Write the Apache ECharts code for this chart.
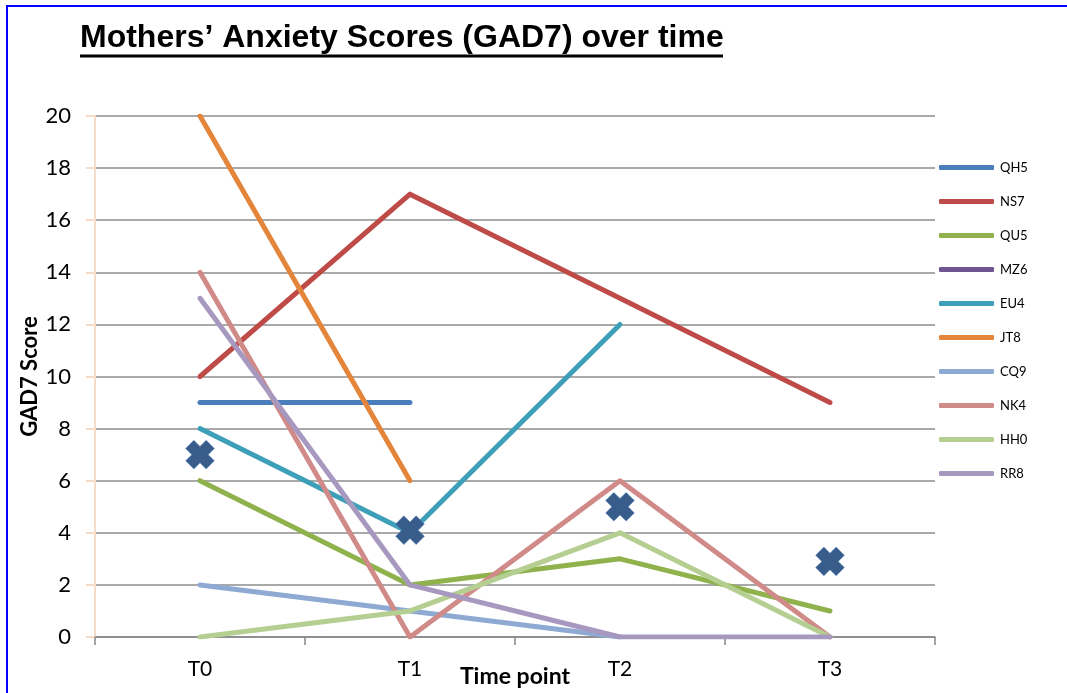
<!DOCTYPE html>
<html lang="en">
<head>
    <meta charset="UTF-8">
    <title>GAD7</title>
    <script src="https://cdn.jsdelivr.net/npm/echarts@6/dist/echarts.min.js"></script>
    <style>
        html, body { margin: 0; padding: 0; background: #fff; }
        #chart { width: 1067px; height: 693px; }
    </style>
</head>
<body>
<div id="chart"></div>
<script>
    var timePoints = ['T0', 'T1', 'T2', 'T3'];
    var names = ['QH5', 'NS7', 'QU5', 'MZ6', 'EU4', 'JT8', 'CQ9', 'NK4', 'HH0', 'RR8'];
    var QH5 = [9, 9, null, null];
    var NS7 = [10, 17, 13, 9];
    var QU5 = [6, 2, 3, 1];
    var MZ6 = [null, null, null, null];
    var EU4 = [8, 4, 12, null];
    var JT8 = [20, 6, null, null];
    var CQ9 = [2, 1, 0, null];
    var NK4 = [14, 0, 6, 0];
    var HH0 = [0, 1, 4, 0];
    var RR8 = [13, 2, 0, 0];
    var meanScore = [7, 4.1, 5, 2.9];
    var yTicks = [0, 20, 2];

    var values = [QH5, NS7, QU5, MZ6, EU4, JT8, CQ9, NK4, HH0, RR8];
    var colors = ['#4a7ebb', '#be4b48', '#8fb24c', '#6f5592', '#3e9fb8', '#e3853a',
        '#8eaad3', '#d08a88', '#b5cf92', '#a798c0'];

    var chart = echarts.init(document.getElementById('chart'));
    var series = [];
    for (var i = 0; i < names.length; ++i) {
        series.push({
            name: names[i],
            type: 'line',
            data: values[i],
            symbol: 'none',
            lineStyle: {width: 5, color: colors[i], cap: 'round', join: 'round'},
            itemStyle: {color: colors[i]}
        });
    }
    series.push({
        name: 'Mean',
        type: 'scatter',
        data: meanScore,
        symbol: 'path://M3,0 H7 V3 H10 V7 H7 V10 H3 V7 H0 V3 H3 Z',
        symbolRotate: 45,
        symbolSize: 29,
        itemStyle: {color: '#385d8a', borderColor: '#4f7fbd', borderWidth: 0.5, opacity: 1},
        z: 5
    });

    chart.setOption({
        animation: false,
        textStyle: {fontFamily: 'Lato'},
        graphic: [
            {type: 'rect', shape: {x: 7, y: 6, width: 1100, height: 720},
                style: {fill: 'none', stroke: '#0000ff', lineWidth: 2}},
            {type: 'text', left: 80, top: 22,
                style: {text: 'Mothers\u2019 Anxiety Scores (GAD7) over time',
                    font: 'bold 32px "Liberation Sans"', fill: '#000'}},
            {type: 'line', shape: {x1: 80, y1: 56, x2: 723, y2: 56},
                style: {stroke: '#000', lineWidth: 3}}
        ],
        legend: {
            data: names,
            orient: 'vertical',
            left: 934,
            top: 156,
            icon: 'roundRect',
            itemWidth: 55,
            itemHeight: 5,
            itemGap: 21,
            textStyle: {fontSize: 13, color: '#000', fontFamily: 'Lato', padding: [0, 0, 0, 1]}
        },
        grid: {left: 95, right: 132, top: 116, bottom: 56, outerBoundsMode: 'none'},
        xAxis: {
            type: 'category',
            data: timePoints,
            boundaryGap: true,
            name: 'Time point',
            nameLocation: 'middle',
            nameGap: 28,
            nameMoveOverlap: false,
            nameTextStyle: {fontSize: 23, fontWeight: 'bold', color: '#000', verticalAlign: 'top'},
            axisLine: {lineStyle: {color: '#868686', width: 1.5}},
            axisTick: {show: true, length: 8, lineStyle: {color: '#868686', width: 1.5}},
            axisLabel: {fontSize: 21, color: '#000', margin: 22}
        },
        yAxis: {
            type: 'value',
            min: yTicks[0],
            max: yTicks[1],
            interval: yTicks[2],
            name: 'GAD7 Score',
            nameLocation: 'middle',
            nameGap: 54,
            nameMoveOverlap: false,
            nameTextStyle: {fontSize: 22, fontWeight: 'bold', color: '#000'},
            axisLine: {show: true, lineStyle: {color: '#f6dcc8', width: 2}},
            axisTick: {show: true, length: 9, lineStyle: {color: '#f6dcc8', width: 2}},
            axisLabel: {fontSize: 22, color: '#000', margin: 24},
            splitLine: {lineStyle: {color: '#8c8c8c', width: 1.5}}
        },
        series: series
    });
</script>
</body>
</html>
